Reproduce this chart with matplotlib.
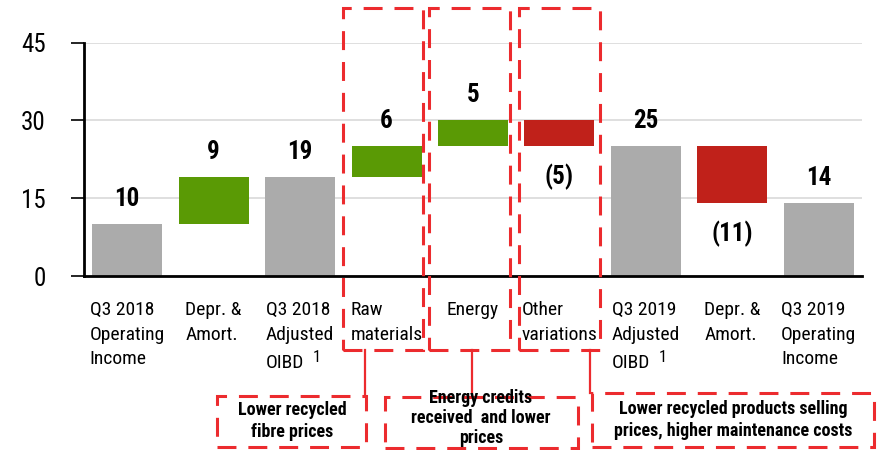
import matplotlib
matplotlib.use("Agg")
import matplotlib.pyplot as plt
from matplotlib import font_manager
from matplotlib.patches import Rectangle
from matplotlib.lines import Line2D

# ---- data ------------------------------------------------------------------
categories = [
    "Q3 2018\nOperating\nIncome",
    "Depr. &\nAmort.",
    "Q3 2018\nAdjusted",
    "Raw\nmaterials",
    "Energy",
    "Other\nvariations",
    "Q3 2019\nAdjusted",
    "Depr. &\nAmort.",
    "Q3 2019\nOperating\nIncome",
]
values = [10, 9, 19, 6, 5, -5, 25, -11, 14]
is_total = [True, False, True, False, False, False, True, False, True]
value_labels = ["10", "9", "19", "6", "5", "(5)", "25", "(11)", "14"]
footnote_idx = [2, 6]   # categories whose last line is "OIBD" + superscript 1
y_ticks = [0, 15, 30, 45]

callout_texts = [
    "Lower recycled\nfibre prices",
    "Energy credits\nreceived  and lower\nprices",
    "Lower recycled products selling\nprices, higher maintenance costs",
]

GREY = "#ABABAB"
GREEN = "#5A9A05"
RED = "#C0211A"
DASH_RED = "#EC2B2E"

# ---- fonts: want something close to Arial Narrow ---------------------------
names = {f.name for f in font_manager.fontManager.ttflist}
base = "Liberation Sans"
for cand in ("Liberation Sans Narrow", "Arial Narrow", "Roboto Condensed",
             "PT Sans Narrow", "Archivo Narrow"):
    if cand in names:
        base = cand
        break
narrow = base != "Liberation Sans"
plt.rcParams["font.family"] = [base, "DejaVu Sans"]
scale = 1.0 if narrow else 0.85

W, H = 877, 450
fig = plt.figure(figsize=(W / 100, H / 100), dpi=100)
ax = fig.add_axes([84 / W, 174 / H, 778 / W, 233.3 / H])

# ---- waterfall bars --------------------------------------------------------
running = 0
bottoms, heights, colours = [], [], []
for v, tot in zip(values, is_total):
    if tot:
        bottoms.append(0)
        heights.append(v)
        colours.append(GREY)
        running = v
    else:
        bottoms.append(running)
        heights.append(v)
        colours.append(GREEN if v > 0 else RED)
        running += v

x = list(range(len(values)))
ax.bar(x, heights, bottom=bottoms, width=0.81, color=colours, zorder=3)

for xi, b, h, lab in zip(x, bottoms, heights, value_labels):
    off = 18 if h >= 0 else -22
    ax.annotate(lab, (xi, b + h), xytext=(0, off), textcoords="offset points",
                ha="center", va="center", fontsize=18 * scale, fontweight="bold")

# ---- axes styling ----------------------------------------------------------
ax.set_xlim(-0.5, len(values) - 0.5)
ax.set_ylim(0, 45)
ax.set_yticks(y_ticks)
ax.set_yticklabels([str(t) for t in y_ticks], fontsize=18 * scale)
ax.tick_params(axis="y", length=9.5, width=1.2, pad=18, color="black")
ax.set_xticks(x)
cat_fs = 14 * scale
line_sp = 1.47
ticklabels = ax.set_xticklabels(categories, fontsize=cat_fs,
                                multialignment="left", linespacing=line_sp)
ax.tick_params(axis="x", length=0, pad=18)
ax.yaxis.grid(True, color="#D9D9D9", linewidth=1.2, zorder=0)
ax.set_axisbelow(True)
for s in ("top", "right"):
    ax.spines[s].set_visible(False)
for s in ("left", "bottom"):
    ax.spines[s].set_linewidth(2)
    ax.spines[s].set_zorder(4)

# third line "OIBD" with a raised footnote "1"
gap = (line_sp - 1) * cat_fs * 1.17
for i in footnote_idx:
    oibd = ax.annotate("OIBD", xy=(0, 0), xycoords=ticklabels[i],
                       xytext=(0, -gap), textcoords="offset points",
                       ha="left", va="top", fontsize=cat_fs)
    ax.annotate("1", xy=(1, 0), xycoords=oibd,
                xytext=(6, 5), textcoords="offset points",
                ha="left", va="bottom", fontsize=cat_fs * 0.85)

# ---- dashed highlight boxes and callouts (figure pixel coords) -----------
def fx(px):
    return px / W


def fy(py):
    return 1 - py / H


dash = (0, (6.2, 3.9))
lw = 2.2

hl_boxes = [(343, 8, 423, 350), (429, 8, 510, 350), (519, 8, 600, 350)]
callout_boxes = [(217, 396, 366, 447), (385, 397, 578, 448), (592, 393, 874, 447)]
connectors = [(365, 350, 365, 396), (472, 350, 472, 397), (590, 350, 590, 393)]
text_pos = [(292, 421), (481, 418), (733, 420)]
text_sp = [1.25, 1.12, 1.25]

for x0, y0, x1, y1 in hl_boxes + callout_boxes:
    fig.add_artist(Rectangle((fx(x0), fy(y1)), fx(x1) - fx(x0), fy(y0) - fy(y1),
                             transform=fig.transFigure, fill=False,
                             edgecolor=DASH_RED, linewidth=lw, linestyle=dash,
                             zorder=5))
for x0, y0, x1, y1 in connectors:
    fig.add_artist(Line2D([fx(x0), fx(x1)], [fy(y0), fy(y1)],
                          transform=fig.transFigure, color=DASH_RED,
                          linewidth=1.6, zorder=5))
for (tx, ty), txt, sp in zip(text_pos, callout_texts, text_sp):
    fig.text(fx(tx), fy(ty), txt, ha="center", va="center",
             fontsize=13 * scale, fontweight="bold", linespacing=sp, zorder=6)

fig.savefig("out.png", dpi=100)
